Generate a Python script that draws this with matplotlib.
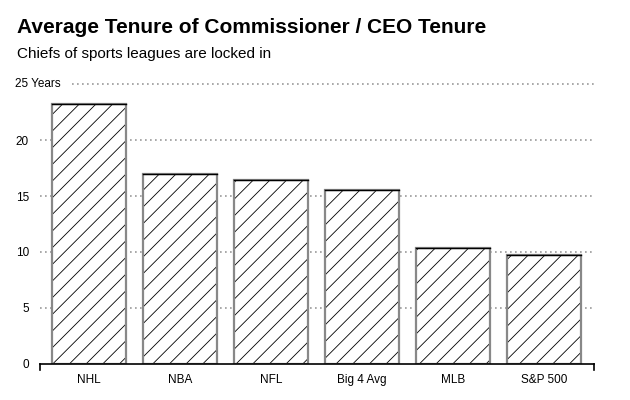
import numpy as np
import matplotlib
matplotlib.use("Agg")
import matplotlib.pyplot as plt

plt.rcParams['font.family'] = ['Liberation Sans', 'DejaVu Sans']
plt.rcParams['hatch.linewidth'] = 0.6

# data
categories = ["NHL", "NBA", "NFL", "Big 4 Avg", "MLB", "S&P 500"]
tenure = [23.2, 17.0, 16.4, 15.5, 10.4, 9.7]
y_ticks = [0, 5, 10, 15, 20]

fig = plt.figure(figsize=(6.3, 4.0), dpi=100)
ax = fig.add_axes([0.0635, 0.09, 0.8795, 0.70])

x = np.arange(len(categories))

# dotted grid lines
for t in y_ticks[1:]:
    ax.axhline(t, color='#999999', linestyle=(0, (1, 2)), linewidth=1.2, zorder=0)
ax.axhline(25, xmin=0.058, xmax=1.0, color='#999999', linestyle=(0, (1, 2)),
           linewidth=1.2, zorder=0, clip_on=False)

# hatched fill (black hatch), then grey outline on top
ax.bar(x, tenure, width=0.81, color='white', edgecolor='black',
       linewidth=0, hatch='//', zorder=2)
ax.bar(x, tenure, width=0.81, fill=False, edgecolor='#888888',
       linewidth=1.6, zorder=3)
for xi, v in zip(x, tenure):
    ax.plot([xi - 0.405, xi + 0.405], [v, v], color='black', linewidth=1.0, zorder=4)

ax.set_xlim(-0.54, 5.55)
ax.set_ylim(0, 25)

ax.set_xticks(x)
ax.set_xticklabels(categories, fontsize=8.5)
ax.tick_params(axis='x', length=0, pad=7)
ax.set_yticks(y_ticks)
ax.set_yticklabels([str(t) for t in y_ticks], fontsize=8.5)
ax.tick_params(axis='y', length=0, pad=8)

for s in ['top', 'right', 'left']:
    ax.spines[s].set_visible(False)
ax.spines['bottom'].set_linewidth(1.2)
ax.spines['bottom'].set_color('black')
ax.spines['bottom'].set_zorder(5)

# small end ticks on the baseline
for xe in [0, 1]:
    ax.plot([xe, xe], [0, -0.022], transform=ax.transAxes, color='black',
            linewidth=1.2, clip_on=False)

ax.text(-0.045, 25, "25 Years", transform=ax.get_yaxis_transform(),
        ha='left', va='center', fontsize=8.5)

fig.text(0.027, 0.932, "Average Tenure of Commissioner / CEO Tenure",
         fontsize=15, fontweight='bold', va='center', ha='left')
fig.text(0.027, 0.866, "Chiefs of sports leagues are locked in",
         fontsize=11, va='center', ha='left')

fig.savefig("out.png", dpi=100)
